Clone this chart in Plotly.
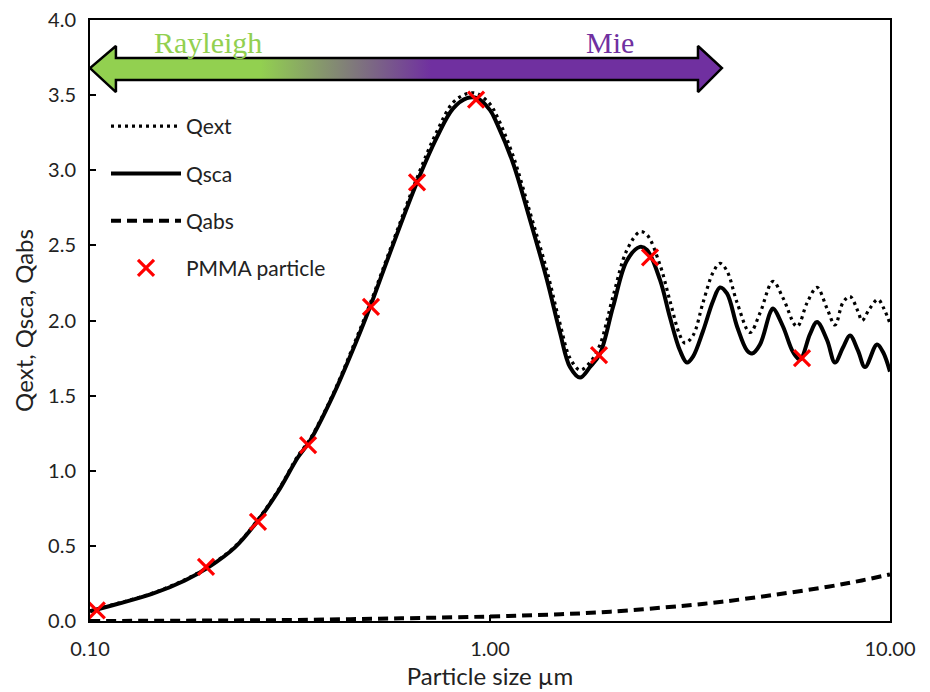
import plotly.graph_objects as go

# Scattering efficiency Qsca vs particle size (um)
dsca = [0.100, 0.1175, 0.1429, 0.1727, 0.1972, 0.2304, 0.2615, 0.2951, 0.3311, 0.3548,
        0.405, 0.4648, 0.5012, 0.5623, 0.657, 0.737, 0.808, 0.876, 0.928, 1.0,
        1.041, 1.141, 1.259, 1.388, 1.496, 1.585, 1.679, 1.778, 1.884, 2.030,
        2.200, 2.371, 2.469, 2.661, 2.818, 2.985, 3.108, 3.218, 3.409, 3.611,
        3.758, 3.912, 4.146, 4.391, 4.519, 4.732, 5.012, 5.099, 5.401, 5.721,
        5.957, 6.310, 6.569, 6.959, 7.286, 7.629, 7.943, 8.318, 8.660, 9.279,
        9.605, 10.0]
qsca = [0.065, 0.115, 0.18, 0.27, 0.355, 0.49, 0.66, 0.86, 1.09, 1.20,
        1.50, 1.87, 2.09, 2.45, 2.92, 3.22, 3.41, 3.48, 3.48, 3.40,
        3.31, 3.05, 2.67, 2.27, 1.92, 1.69, 1.62, 1.69, 1.78, 2.09,
        2.40, 2.49, 2.47, 2.27, 2.02, 1.80, 1.72, 1.76, 1.93, 2.13,
        2.22, 2.18, 1.96, 1.80, 1.78, 1.84, 2.05, 2.08, 1.96, 1.79,
        1.74, 1.91, 1.99, 1.87, 1.72, 1.82, 1.90, 1.80, 1.69, 1.84,
        1.79, 1.66]

# Extinction efficiency Qext
dext = [0.100, 0.1175, 0.1429, 0.1727, 0.1972, 0.2304, 0.2615, 0.2951, 0.3311, 0.3548,
        0.405, 0.4648, 0.5012, 0.5623, 0.657, 0.737, 0.808, 0.876, 0.928, 1.0,
        1.041, 1.141, 1.259, 1.388, 1.496, 1.585, 1.679, 1.778, 1.884, 2.030,
        2.200, 2.371, 2.469, 2.661, 2.818, 2.985, 3.073, 3.218, 3.409, 3.611,
        3.758, 3.912, 4.146, 4.467, 4.732, 5.099, 5.401, 5.854, 6.210, 6.569,
        6.959, 7.286, 7.629, 7.943, 8.318, 8.511, 8.900, 9.333, 9.650, 10.0]
qext = [0.068, 0.118, 0.184, 0.275, 0.36, 0.496, 0.667, 0.868, 1.10, 1.21,
        1.51, 1.89, 2.11, 2.47, 2.95, 3.26, 3.45, 3.51, 3.51, 3.44,
        3.36, 3.10, 2.72, 2.33, 1.98, 1.75, 1.67, 1.72, 1.84, 2.16,
        2.47, 2.59, 2.57, 2.37, 2.13, 1.90, 1.85, 1.90, 2.12, 2.32,
        2.38, 2.33, 2.12, 1.92, 2.05, 2.26, 2.15, 1.96, 2.12, 2.22,
        2.08, 1.97, 2.12, 2.16, 2.06, 2.00, 2.08, 2.14, 2.08, 1.98]

# Absorption efficiency Qabs
dabs = [0.1, 0.2, 0.33, 0.6, 1.0, 1.5, 2.0, 3.0, 3.8, 5.1, 7.0, 8.5, 10.0]
qabs = [0.0, 0.003, 0.007, 0.018, 0.03, 0.045, 0.062, 0.10, 0.128, 0.173, 0.228, 0.27, 0.31]

# Measured PMMA particles
pmma_d = [0.104, 0.195, 0.263, 0.351, 0.504, 0.657, 0.923, 1.873, 2.512, 6.026]
pmma_q = [0.07, 0.36, 0.66, 1.17, 2.09, 2.92, 3.47, 1.77, 2.42, 1.75]

# Regime arrow outline (x in um, y in axis units)
arrow_x = [0.1, 0.1161, 0.1161, 3.311, 3.311, 3.80, 3.311, 3.311, 0.1161, 0.1161, 0.1]
arrow_y = [3.68, 3.827, 3.747, 3.747, 3.827, 3.68, 3.52, 3.60, 3.60, 3.52, 3.68]

xtick_vals = [0.1, 1, 10]
xtick_text = ["0.10", "1.00", "10.00"]

GREEN = "#92D050"
PURPLE = "#7030A0"
FONT = "Lato"
TXT = "#222"

fig = go.Figure()

fig.add_trace(go.Scatter(
    x=arrow_x, y=arrow_y, mode="lines", fill="toself",
    fillgradient=dict(type="horizontal",
                      colorscale=[[0, GREEN], [0.27, GREEN], [0.54, PURPLE], [1, PURPLE]]),
    line=dict(color="black", width=2.5), showlegend=False, hoverinfo="skip"))

fig.add_trace(go.Scatter(
    x=dext, y=qext, name="Qext", mode="lines", line_shape="spline",
    line=dict(color="black", width=3.2, dash="3px,4px"), legendgroup="a"))
fig.add_trace(go.Scatter(
    x=dsca, y=qsca, name="Qsca", mode="lines", line_shape="spline",
    line=dict(color="black", width=4), legendgroup="b"))
fig.add_trace(go.Scatter(
    x=dabs, y=qabs, name="Qabs", mode="lines", line_shape="spline",
    line=dict(color="black", width=4, dash="10px,6px"), legendgroup="c"))
fig.add_trace(go.Scatter(
    x=pmma_d, y=pmma_q, name="PMMA particle", mode="markers",
    marker=dict(symbol="x-thin", size=16, line=dict(color="#FF0000", width=3.2)),
    legendgroup="d"))

fig.add_annotation(x=0.1475, y=0.963, xref="paper", yref="paper", text="Rayleigh",
                   xanchor="center", yanchor="middle", showarrow=False,
                   font=dict(family="Liberation Serif", size=30, color=GREEN))
fig.add_annotation(x=0.65, y=0.963, xref="paper", yref="paper", text="Mie",
                   xanchor="center", yanchor="middle", showarrow=False,
                   font=dict(family="Liberation Serif", size=30, color=PURPLE))

axis_common = dict(showline=True, linecolor="black", linewidth=2, mirror=True,
                   showgrid=False, zeroline=False, ticks="inside", ticklen=6,
                   tickcolor="black", tickwidth=1.5, automargin=False,
                   tickfont=dict(family=FONT, size=20, color=TXT))

fig.update_xaxes(type="log", range=[-1, 1], tickvals=xtick_vals, ticktext=xtick_text,
                 ticklabelstandoff=9,
                 title=dict(text="Particle size µm", font=dict(family=FONT, size=24, color=TXT),
                            standoff=9),
                 **axis_common)
fig.update_yaxes(range=[0, 4], dtick=0.5, tickformat=".1f", ticklabelstandoff=8,
                 title=dict(text="Qext, Qsca, Qabs", font=dict(family=FONT, size=24, color=TXT),
                            standoff=8),
                 **axis_common)

fig.update_layout(
    width=930, height=692,
    margin=dict(l=90, r=40, t=20, b=71),
    plot_bgcolor="white", paper_bgcolor="white",
    legend=dict(x=0.02, y=0.857, xanchor="left", yanchor="top",
                font=dict(family=FONT, size=21, color=TXT),
                bgcolor="rgba(0,0,0,0)", tracegroupgap=17, itemwidth=70),
)

fig.write_html("out.html")
